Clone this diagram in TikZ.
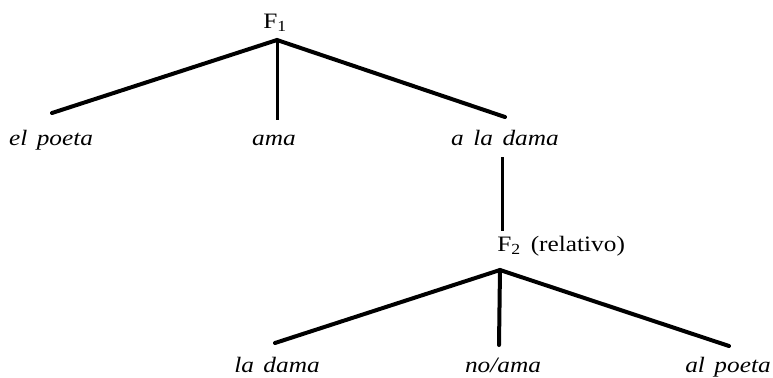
\documentclass[tikz,border=0pt]{standalone}
\usepackage{fontspec}
\setmainfont[FakeStretch=1.15,WordSpace=1.5]{Liberation Serif}
\begin{document}
\begin{tikzpicture}[x=0.5pt,y=-0.5pt,
  lbl/.style={inner sep=0pt,anchor=base,font=\fontsize{11pt}{13pt}\selectfont\itshape},
  hd/.style={inner sep=0pt,anchor=base west,font=\fontsize{11pt}{13pt}\selectfont},
  branch/.style={line width=2pt,line cap=round},
  stem/.style={line width=1.5pt}]
\useasboundingbox (0,0) rectangle (773,377);
% heads
\node[hd] (F1) at (263,28) {F\textsubscript{1}};
\node[hd] (F2) at (497,251) {F\textsubscript{2} (relativo)};
% first tree
\coordinate (a1) at (277,40);
\coordinate (e1) at (52,113);
\coordinate (e2) at (277,120);
\coordinate (e3) at (505,117);
\node[lbl] (elpoeta) at (51,145) {el poeta};
\node[lbl] (ama) at (274,145) {ama};
\node[lbl] (aladama) at (505,145) {a la dama};
\draw[branch] (e1) -- (a1) -- (e3);
\draw[stem] (a1) -- (e2);
% link
\coordinate (v1) at (502,157);
\coordinate (v2) at (502,231);
\draw[stem] (v1) -- (v2);
% second tree
\coordinate (a2) at (500,270);
\coordinate (g1) at (275,343);
\coordinate (g2) at (499,345);
\coordinate (g3) at (729,346);
\node[lbl] (ladama) at (277,372) {la dama};
\node[lbl] (noama) at (503,372) {no/ama};
\node[lbl] (alpoeta) at (728,372) {al poeta};
\draw[branch] (g1) -- (a2) -- (g3);
\draw[branch] (a2) -- (g2);
\end{tikzpicture}
\end{document}
